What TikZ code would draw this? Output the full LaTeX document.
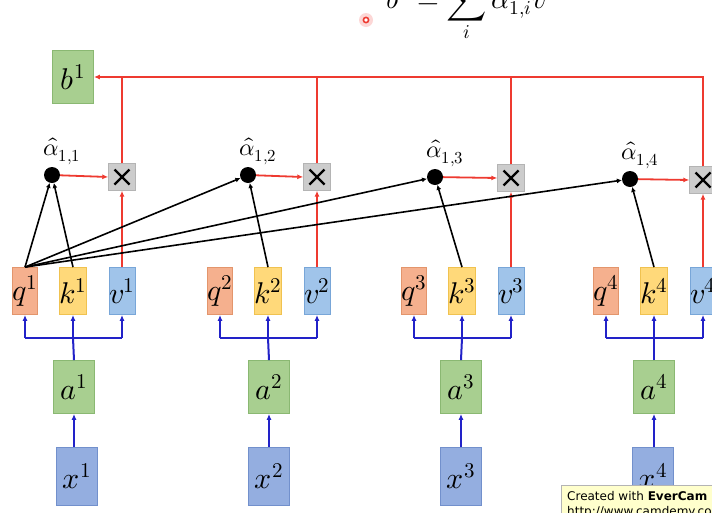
\documentclass[tikz,border=0pt]{standalone}
\usepackage{fontspec}
\usepackage{unicode-math}
\setmathfont{Latin Modern Math}
\newfontfamily\notefont{DejaVu Sans}
\usepackage{tikz}
\usetikzlibrary{arrows.meta,calc,positioning}
\definecolor{AttnQuery}{HTML}{F5B08E}
\definecolor{AttnQueryEdge}{HTML}{E3956C}
\definecolor{AttnKey}{HTML}{FFD97A}
\definecolor{AttnKeyEdge}{HTML}{F0C250}
\definecolor{AttnValue}{HTML}{A0C4EA}
\definecolor{AttnValueEdge}{HTML}{78A6D8}
\definecolor{AttnGreen}{HTML}{A8CF90}
\definecolor{AttnGreenEdge}{HTML}{8AB872}
\definecolor{AttnInput}{HTML}{94AEE0}
\definecolor{AttnInputEdge}{HTML}{7290CC}
\definecolor{AttnGray}{HTML}{CCCCCC}
\definecolor{AttnGrayEdge}{HTML}{B4B4B4}
\definecolor{AttnRed}{HTML}{EE3A30}
\definecolor{AttnBlue}{HTML}{2222C8}
\definecolor{AttnNote}{HTML}{FFFFCC}

\begin{document}
\begin{tikzpicture}[x=1pt,y=-1pt,font=\fontsize{30}{32}\selectfont,
  cell/.style={draw,line width=0.8pt,inner sep=0pt,minimum width=25pt,minimum height=47pt},
  qcell/.style={cell,fill=AttnQuery,draw=AttnQueryEdge},
  kcell/.style={cell,fill=AttnKey,draw=AttnKeyEdge},
  vcell/.style={cell,fill=AttnValue,draw=AttnValueEdge},
  wordbox/.style={draw,line width=0.8pt,inner sep=0pt,minimum width=41pt},
  abox/.style={wordbox,fill=AttnGreen,draw=AttnGreenEdge,minimum height=53pt},
  xbox/.style={wordbox,fill=AttnInput,draw=AttnInputEdge,minimum height=58pt},
  scoredot/.style={circle,fill=black,inner sep=0pt,minimum size=16pt},
  mulbox/.style={fill=AttnGray,draw=AttnGrayEdge,inner sep=0pt,minimum size=27pt,
    path picture={\draw[black,line width=2.4pt]
      ([shift={(6pt,6pt)}]path picture bounding box.south west) --
      ([shift={(-6pt,-6pt)}]path picture bounding box.north east)
      ([shift={(6pt,-6pt)}]path picture bounding box.north west) --
      ([shift={(-6pt,6pt)}]path picture bounding box.south east);}},
  scorelbl/.style={font=\fontsize{24}{26}\selectfont,xshift=10pt,label distance=-1pt},
  blackline/.style={black,line width=1.6pt,-{Latex[length=5pt,width=5pt]}},
  redline/.style={draw=AttnRed,line width=1.8pt},
  redarrow/.style={redline,-{Latex[length=6pt,width=5pt]}},
  blueline/.style={draw=AttnBlue,line width=2pt},
  bluearrow/.style={blueline,-{Latex[length=6pt,width=5pt]}}]
  \useasboundingbox (0,0) rectangle (712,512);
  \clip (0,0) rectangle (712,512);

  \node[anchor=base,font=\fontsize{28}{30}\selectfont] (sumeq) at (470,8)
    {$\displaystyle b^1=\sum_i\hat{\alpha}_{1,i}v^i$};
  \fill[AttnRed!20] (366,20) circle (7);
  \draw[AttnRed,line width=1.6pt,fill=white] (366,20) circle (2.6);

  \node[abox] (b1) at (73,77) {$b^1$};

  \foreach \i/\qx/\ax/\xx/\dx/\dy/\my in {1/25/74/77/52/175/177,
      2/220/269/269/248/175/177, 3/414/461/461/435/177/178,
      4/606/654/653/630/179/180}{
    \node[qcell] (q\i) at (\qx,291) {$q^{\i}$};
    \node[kcell] (k\i) at (\qx+48,291) {$k^{\i}$};
    \node[vcell] (v\i) at (\qx+97,291) {$v^{\i}$};
    \node[abox] (a\i) at (\ax,387) {$a^{\i}$};
    \node[xbox] (x\i) at (\xx,476) {$x^{\i}$};
    \node[scoredot,label={[scorelbl]above:$\hat{\alpha}_{1,\i}$}] (d\i) at (\dx,\dy) {};
    \node[mulbox] (m\i) at (\qx+97,\my) {};
    \coordinate (j\i) at (\qx+48,338);
    \draw[bluearrow] (a\i.south |- x\i.north) -- (a\i.south);
    \draw[blueline] (a\i.north) -- (j\i);
    \draw[blueline] (j\i -| q\i) -- (j\i -| v\i);
    \draw[bluearrow] (j\i -| q\i) -- (q\i.south);
    \draw[bluearrow] (j\i) -- (k\i.south);
    \draw[bluearrow] (j\i -| v\i) -- (v\i.south);
    \draw[blackline] (q1.north) -- (d\i);
    \draw[blackline] (k\i.north) -- (d\i);
    \draw[redarrow] (d\i) -- (m\i.west);
    \draw[redarrow] (v\i.north) -- (m\i.south);
  }
  \draw[redarrow] (m4.north) |- (b1.east);
  \foreach \i in {1,2,3}
    \draw[redline] (m\i.north) -- (m\i.north |- b1.east);

  \node[draw=AttnGrayEdge,fill=AttnNote,anchor=north west,align=left,inner xsep=6pt,
    inner ysep=6pt,font=\notefont\fontsize{12}{15}\selectfont] (stamp) at (561,485)
    {Created with \textbf{EverCam}\\http://www.camdemy.com};
\end{tikzpicture}
\end{document}
